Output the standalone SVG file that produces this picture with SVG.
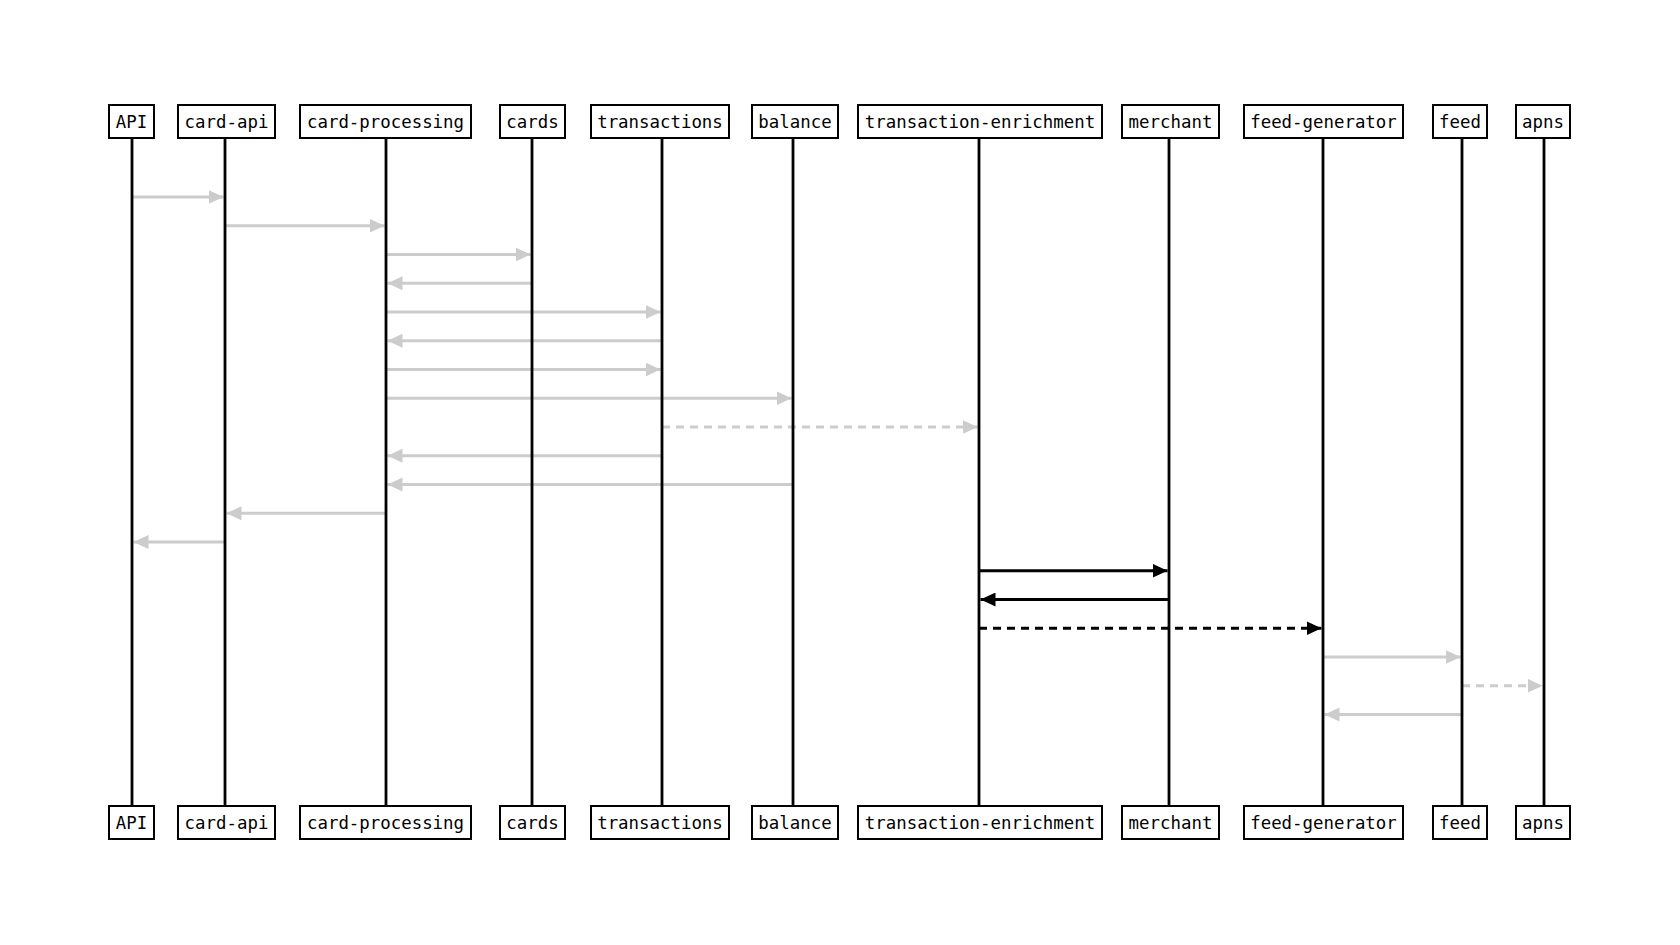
<svg xmlns="http://www.w3.org/2000/svg" width="1680" height="945" viewBox="0 0 1680 945">
<style>
.box{fill:#fff;stroke:#000;stroke-width:2}
.life{stroke:#000;stroke-width:2.8}
.lbl{font-family:"DejaVu Sans Mono","Liberation Mono",monospace;font-size:17.4px;fill:#000;text-anchor:middle}
.g{stroke:#cccccc;stroke-width:3.2;fill:none;marker-end:url(#ag)}
.k{stroke:#000;stroke-width:3.2;fill:none;marker-end:url(#ak)}
.d{stroke-dasharray:8 6}
</style>
<defs>
<marker id="ag" markerUnits="userSpaceOnUse" markerWidth="16" markerHeight="14" refX="15" refY="7" orient="auto"><path d="M0,0 L15,7 L0,14 Z" fill="#cccccc"/></marker>
<marker id="ak" markerUnits="userSpaceOnUse" markerWidth="16" markerHeight="14" refX="15" refY="7" orient="auto"><path d="M0,0 L15,7 L0,14 Z" fill="#000"/></marker>
</defs>
<rect width="1680" height="945" fill="#fff"/>
<g id="connectors">
<path class="g" d="M132,197 H223.5"/>
<path class="g" d="M225,225.75 H384.5"/>
<path class="g" d="M386,254.5 H530.5"/>
<path class="g" d="M532,283.25 H387.5"/>
<path class="g" d="M386,312 H660.5"/>
<path class="g" d="M662,340.75 H387.5"/>
<path class="g" d="M386,369.5 H660.5"/>
<path class="g" d="M386,398.25 H791.5"/>
<path class="g d" d="M662,427 H977.5"/>
<path class="g" d="M662,455.75 H387.5"/>
<path class="g" d="M793,484.5 H387.5"/>
<path class="g" d="M386,513.25 H226.5"/>
<path class="g" d="M225,542 H133.5"/>
<path class="k" d="M979,570.75 H1167.5"/>
<path class="k" d="M1169,599.5 H980.5"/>
<path class="k d" d="M979,628.25 H1321.5"/>
<path class="g" d="M1323,657 H1460.5"/>
<path class="g d" d="M1462,685.75 H1542.5"/>
<path class="g" d="M1462,714.5 H1324.5"/>
</g>
<g id="API"><line class="life" x1="132" y1="138" x2="132" y2="806"/><rect class="box" x="109" y="105" width="45" height="33"/><text class="lbl" x="131.5" y="128">API</text><rect class="box" x="109" y="806" width="45" height="33"/><text class="lbl" x="131.5" y="829">API</text></g>
<g id="card-api"><line class="life" x1="225" y1="138" x2="225" y2="806"/><rect class="box" x="178" y="105" width="97" height="33"/><text class="lbl" x="226.5" y="128">card-api</text><rect class="box" x="178" y="806" width="97" height="33"/><text class="lbl" x="226.5" y="829">card-api</text></g>
<g id="card-processing"><line class="life" x1="386" y1="138" x2="386" y2="806"/><rect class="box" x="300" y="105" width="171" height="33"/><text class="lbl" x="385.5" y="128">card-processing</text><rect class="box" x="300" y="806" width="171" height="33"/><text class="lbl" x="385.5" y="829">card-processing</text></g>
<g id="cards"><line class="life" x1="532" y1="138" x2="532" y2="806"/><rect class="box" x="500" y="105" width="65" height="33"/><text class="lbl" x="532.5" y="128">cards</text><rect class="box" x="500" y="806" width="65" height="33"/><text class="lbl" x="532.5" y="829">cards</text></g>
<g id="transactions"><line class="life" x1="662" y1="138" x2="662" y2="806"/><rect class="box" x="591" y="105" width="138" height="33"/><text class="lbl" x="660" y="128">transactions</text><rect class="box" x="591" y="806" width="138" height="33"/><text class="lbl" x="660" y="829">transactions</text></g>
<g id="balance"><line class="life" x1="793" y1="138" x2="793" y2="806"/><rect class="box" x="752" y="105" width="86" height="33"/><text class="lbl" x="795" y="128">balance</text><rect class="box" x="752" y="806" width="86" height="33"/><text class="lbl" x="795" y="829">balance</text></g>
<g id="transaction-enrichment"><line class="life" x1="979" y1="138" x2="979" y2="806"/><rect class="box" x="858" y="105" width="244" height="33"/><text class="lbl" x="980" y="128">transaction-enrichment</text><rect class="box" x="858" y="806" width="244" height="33"/><text class="lbl" x="980" y="829">transaction-enrichment</text></g>
<g id="merchant"><line class="life" x1="1169" y1="138" x2="1169" y2="806"/><rect class="box" x="1122" y="105" width="97" height="33"/><text class="lbl" x="1170.5" y="128">merchant</text><rect class="box" x="1122" y="806" width="97" height="33"/><text class="lbl" x="1170.5" y="829">merchant</text></g>
<g id="feed-generator"><line class="life" x1="1323" y1="138" x2="1323" y2="806"/><rect class="box" x="1244" y="105" width="159" height="33"/><text class="lbl" x="1323.5" y="128">feed-generator</text><rect class="box" x="1244" y="806" width="159" height="33"/><text class="lbl" x="1323.5" y="829">feed-generator</text></g>
<g id="feed"><line class="life" x1="1462" y1="138" x2="1462" y2="806"/><rect class="box" x="1433" y="105" width="54" height="33"/><text class="lbl" x="1460" y="128">feed</text><rect class="box" x="1433" y="806" width="54" height="33"/><text class="lbl" x="1460" y="829">feed</text></g>
<g id="apns"><line class="life" x1="1544" y1="138" x2="1544" y2="806"/><rect class="box" x="1516" y="105" width="54" height="33"/><text class="lbl" x="1543" y="128">apns</text><rect class="box" x="1516" y="806" width="54" height="33"/><text class="lbl" x="1543" y="829">apns</text></g>
</svg>
